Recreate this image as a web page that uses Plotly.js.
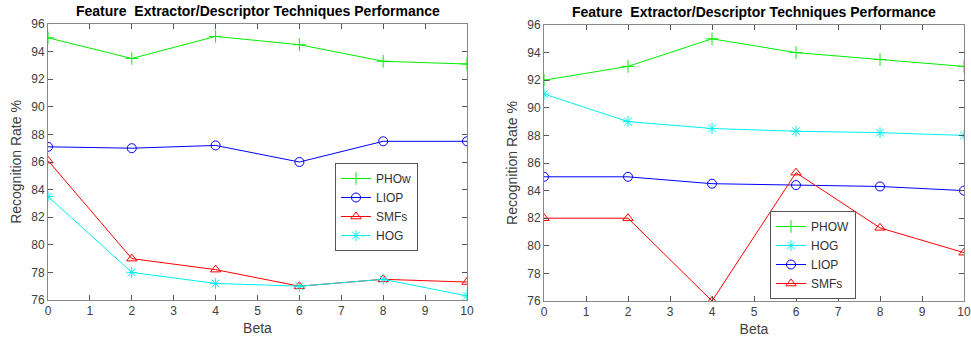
<!DOCTYPE html>
<html><head><meta charset="utf-8">
<script src="https://cdn.plot.ly/plotly-3.0.1.min.js"></script>
<style>html,body{margin:0;padding:0;background:#fff}#chart{width:971px;height:339px}</style>
</head><body><div id="chart"></div>
<script>
const beta = [0, 2, 4, 6, 8, 10];
// Left chart
const leftNames = ['PHOw', 'LIOP', 'SMFs', 'HOG'];
const leftPHOw = [95, 93.5, 95.1, 94.5, 93.3, 93.1];
const leftLIOP = [87.1, 87.0, 87.2, 86.0, 87.5, 87.5];
const leftSMFs = [86.1, 79.0, 78.2, 77.0, 77.5, 77.3];
const leftHOG  = [83.5, 78.0, 77.2, 77.0, 77.5, 76.3];
// Right chart
const rightNames = ['PHOW', 'HOG', 'LIOP', 'SMFs'];
const rightPHOW = [92, 93, 95, 94, 93.5, 93];
const rightHOG  = [91, 89, 88.5, 88.3, 88.2, 88];
const rightLIOP = [85, 85, 84.5, 84.4, 84.3, 84];
const rightSMFs = [82, 82, 76, 85.3, 81.3, 79.5];
const titleText = 'Feature  Extractor/Descriptor Techniques Performance';
const xTickVals = [0,1,2,3,4,5,6,7,8,9,10];
const yTickVals = [76,78,80,82,84,86,88,90,92,94,96];

const styles = {
  PHO: {color:'#00ee00', symbol:'cross-thin-open'},
  LIOP: {color:'#0000ff', symbol:'circle-open'},
  SMFs: {color:'#ff0000', symbol:'triangle-up-open'},
  HOG: {color:'#00f0f0', symbol:'asterisk-open'}
};
function tr(name, y, key, xa, ya, leg) {
  const s = styles[key];
  return {x: beta, y: y, name: name, type:'scatter', mode:'lines+markers',
    xaxis: xa, yaxis: ya, legend: leg,
    line: {color: s.color, width: 1},
    marker: {symbol: s.symbol, size: 9, color: s.color, line: {color: s.color, width: 1}}};
}
const data = [
  tr(leftNames[0], leftPHOw, 'PHO', 'x', 'y', 'legend'),
  tr(leftNames[1], leftLIOP, 'LIOP', 'x', 'y', 'legend'),
  tr(leftNames[2], leftSMFs, 'SMFs', 'x', 'y', 'legend'),
  tr(leftNames[3], leftHOG, 'HOG', 'x', 'y', 'legend'),
  tr(rightNames[0], rightPHOW, 'PHO', 'x2', 'y2', 'legend2'),
  tr(rightNames[1], rightHOG, 'HOG', 'x2', 'y2', 'legend2'),
  tr(rightNames[2], rightLIOP, 'LIOP', 'x2', 'y2', 'legend2'),
  tr(rightNames[3], rightSMFs, 'SMFs', 'x2', 'y2', 'legend2')
];
const FF = 'Liberation Sans, Arial, sans-serif';
const tickFont = {family:FF, size:12, color:'#404040'};
const titleFont = {family:FF, size:14, color:'#404040'};
function xax(domain, anchor) {
  return {domain: domain, anchor: anchor, range:[0,10], tickvals:xTickVals, ticks:'inside', ticklen:5,
    tickcolor:'#555', showline:true, linecolor:'#888', linewidth:1, mirror:'ticks', showgrid:false,
    zeroline:false, tickfont: tickFont, title:{text:'Beta', font: titleFont, standoff: 5}};
}
function yax(domain, anchor) {
  return {domain: domain, anchor: anchor, range:[76,96], tickvals:yTickVals, ticks:'inside', ticklen:5,
    tickcolor:'#555', showline:true, linecolor:'#888', linewidth:1, mirror:'ticks', showgrid:false,
    zeroline:false, tickfont: tickFont, title:{text:'Recognition Rate %', font: titleFont, standoff: 6}};
}
const legendBase = {bgcolor:'#fff', bordercolor:'#555', borderwidth:1,
  font:{family:FF, size:12, color:'#333'},
  tracegroupgap:0, itemwidth:30, xanchor:'left'};
const layout = {
  width: 971, height: 339,
  margin: {l:0, r:0, t:0, b:0},
  paper_bgcolor:'#fff', plot_bgcolor:'#fff',
  showlegend: true,
  xaxis: xax([48/971, 467/971], 'y'),
  yaxis: yax([1-300/339, 1-24/339], 'x'),
  xaxis2: xax([544/971, 964/971], 'y2'),
  yaxis2: yax([1-301/339, 1-25/339], 'x2'),
  legend: Object.assign({}, legendBase, {x: 335/971, y: 1-207/339, yanchor:'middle', xref:'paper', yref:'paper'}),
  legend2: Object.assign({}, legendBase, {x: 770/971, y: 1-299/339, yanchor:'bottom', xref:'paper', yref:'paper'}),
  annotations: [
    {text:'<b>'+titleText+'</b>', x:258/971, y:1-11/339, xref:'paper', yref:'paper', showarrow:false,
     xanchor:'center', yanchor:'middle', font:{family:FF, size:14, color:'#000'}},
    {text:'<b>'+titleText+'</b>', x:754/971, y:1-12/339, xref:'paper', yref:'paper', showarrow:false,
     xanchor:'center', yanchor:'middle', font:{family:FF, size:14, color:'#000'}}
  ]
};
Plotly.newPlot('chart', data, layout, {displayModeBar:false, staticPlot:true});
</script></body></html>
